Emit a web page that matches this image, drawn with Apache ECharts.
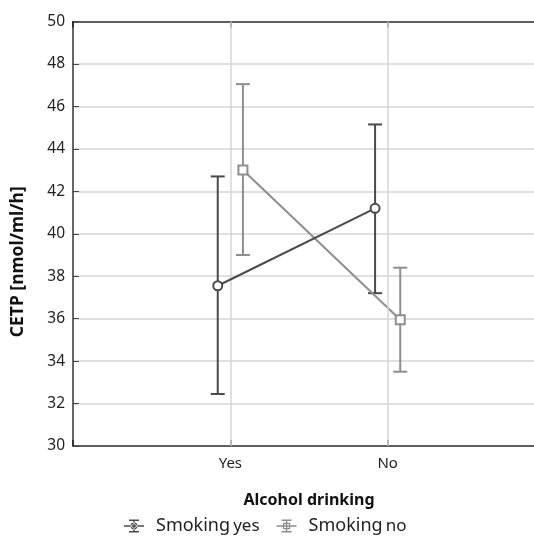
<!DOCTYPE html>
<html>
<head>
<meta charset="utf-8">
<script src="https://cdn.jsdelivr.net/npm/echarts@6/dist/echarts.min.js"></script>
<style>
  html, body { margin: 0; padding: 0; background: #fff; overflow: hidden; }
  #chart { width: 534px; height: 539px; }
</style>
</head>
<body>
<div id="chart"></div>
<script>
// Groups on the x axis
const categories = ['Yes', 'No'];

// CETP means and error-bar limits, smoking = yes
const smokingYesMean = [37.55, 41.2];
const smokingYesLow  = [32.45, 37.2];
const smokingYesHigh = [42.7, 45.15];

// CETP means and error-bar limits, smoking = no
const smokingNoMean = [43.0, 35.95];
const smokingNoLow  = [39.0, 33.5];
const smokingNoHigh = [47.05, 38.4];

// Y axis range
const yMin = 30, yMax = 50, yStep = 2;

const FONT = 'Noto Sans';
const DARK = '#4a4a4a';
const LIGHT = '#8e8e8e';
const GRID = '#d6d6d6';
const DODGE = 0.08;

// category i sits at x = i + 1; each group is nudged sideways
function points(means, shift) {
  return means.map((v, i) => [i + 1 + shift, v]);
}
function bars(lows, highs, shift) {
  return lows.map((lo, i) => [i + 1 + shift, lo, highs[i]]);
}

function errorBars(color) {
  return function (params, api) {
    const x = api.value(0);
    const lo = api.coord([x, api.value(1)]);
    const hi = api.coord([x, api.value(2)]);
    const w = 7;
    const style = { stroke: color, lineWidth: 2, fill: null };
    return {
      type: 'group',
      children: [
        { type: 'line', shape: { x1: lo[0], y1: lo[1], x2: hi[0], y2: hi[1] }, style },
        { type: 'line', shape: { x1: hi[0] - w, y1: hi[1], x2: hi[0] + w, y2: hi[1] }, style },
        { type: 'line', shape: { x1: lo[0] - w, y1: lo[1], x2: lo[0] + w, y2: lo[1] }, style }
      ]
    };
  };
}

// legend glyphs: whisker with marker in the middle
const iconCircle = 'path://M0 5.8h20v1.4H0z M5 0h10v1.4H5z M5 11.6h10v1.4H5z M9.3 0h1.4v13H9.3z ' +
  'M13.4 6.5A3.4 3.4 0 1 0 6.6 6.5A3.4 3.4 0 1 0 13.4 6.5z M12.2 6.5A2.2 2.2 0 1 1 7.8 6.5A2.2 2.2 0 1 1 12.2 6.5z';
const iconSquare = 'path://M0 5.8h20v1.4H0z M5 0h10v1.4H5z M5 11.6h10v1.4H5z M9.3 0h1.4v13H9.3z ' +
  'M6.4 3.2h7.2v6.6H6.4z M7.6 4.4v4.2h4.8V4.4z';

const chart = echarts.init(document.getElementById('chart'));

const axisLine = { show: true, lineStyle: { color: '#333', width: 1.5 } };

chart.setOption({
  animation: false,
  textStyle: { fontFamily: FONT },
  grid: { left: 73, top: 21.5, right: -11, bottom: 93, containLabel: false, outerBoundsMode: 'none' },
  legend: {
    left: 119,
    top: 512,
    itemWidth: 20,
    itemHeight: 13,
    itemGap: 17,
    data: [
      { name: 'Smoking yes', icon: iconCircle, itemStyle: { color: DARK } },
      { name: 'Smoking no', icon: iconSquare, itemStyle: { color: LIGHT } }
    ],
    formatter: name => {
      const parts = name.split(' ');
      return '{a|' + parts[0] + '} {b|' + parts[1] + '}';
    },
    textStyle: {
      padding: [0, 0, 0, 7],
      rich: {
        a: { fontFamily: FONT, fontSize: 18, color: '#222' },
        b: { fontFamily: FONT, fontSize: 17, color: '#222' }
      }
    }
  },
  xAxis: [
    {
      type: 'value',
      min: 0, max: 3, interval: 1,
      name: 'Alcohol drinking',
      nameLocation: 'middle',
      nameGap: 46,
      nameTextStyle: { fontFamily: FONT, fontSize: 16, fontWeight: 'bold', color: '#111' },
      axisLine,
      axisTick: { show: true, inside: true, length: 6, lineStyle: { color: '#222', width: 1.5 } },
      axisLabel: {
        fontFamily: FONT, fontSize: 15, color: '#222', margin: 10,
        formatter: v => (v >= 1 && v <= categories.length ? categories[v - 1] : '')
      },
      splitLine: { show: false }
    },
    {
      type: 'value',
      position: 'top',
      min: 0, max: 3, interval: 1,
      axisLine,
      axisTick: { show: true, inside: true, length: 6, lineStyle: { color: '#222', width: 1.5 } },
      axisLabel: { show: false },
      splitLine: { show: false }
    }
  ],
  yAxis: {
    type: 'value',
    min: yMin, max: yMax, interval: yStep,
    name: 'CETP [nmol/ml/h]',
    nameLocation: 'middle',
    nameGap: 46,
    nameTextStyle: { fontFamily: FONT, fontSize: 17.5, fontWeight: 'bold', color: '#111', padding: [0, 56, 0, 0] },
    axisLine,
    axisTick: { show: true, inside: true, length: 6, lineStyle: { color: '#444', width: 1 } },
    axisLabel: { fontFamily: FONT, fontSize: 15.5, color: '#222', margin: 8 },
    splitLine: { show: true, lineStyle: { color: GRID, width: 1.5 } }
  },
  series: [
    {
      // vertical grid lines through each group
      name: 'groups',
      type: 'line',
      data: [],
      silent: true,
      z: 1,
      markLine: {
        silent: true,
        symbol: 'none',
        label: { show: false },
        lineStyle: { color: GRID, width: 1.5, type: 'solid' },
        data: categories.map((c, i) => ({ xAxis: i + 1 }))
      }
    },
    {
      name: 'Smoking yes',
      type: 'custom',
      renderItem: errorBars(DARK),
      data: bars(smokingYesLow, smokingYesHigh, -DODGE),
      z: 3
    },
    {
      name: 'Smoking no',
      type: 'custom',
      renderItem: errorBars(LIGHT),
      data: bars(smokingNoLow, smokingNoHigh, DODGE),
      z: 2
    },
    {
      name: 'Smoking yes',
      type: 'line',
      data: points(smokingYesMean, -DODGE),
      symbol: 'circle',
      symbolSize: 9,
      lineStyle: { color: DARK, width: 2 },
      itemStyle: { color: '#fff', borderColor: DARK, borderWidth: 2 },
      z: 5
    },
    {
      name: 'Smoking no',
      type: 'line',
      data: points(smokingNoMean, DODGE),
      symbol: 'rect',
      symbolSize: 9,
      lineStyle: { color: LIGHT, width: 2 },
      itemStyle: { color: '#fff', borderColor: LIGHT, borderWidth: 2 },
      z: 4
    }
  ]
});
</script>
</body>
</html>
